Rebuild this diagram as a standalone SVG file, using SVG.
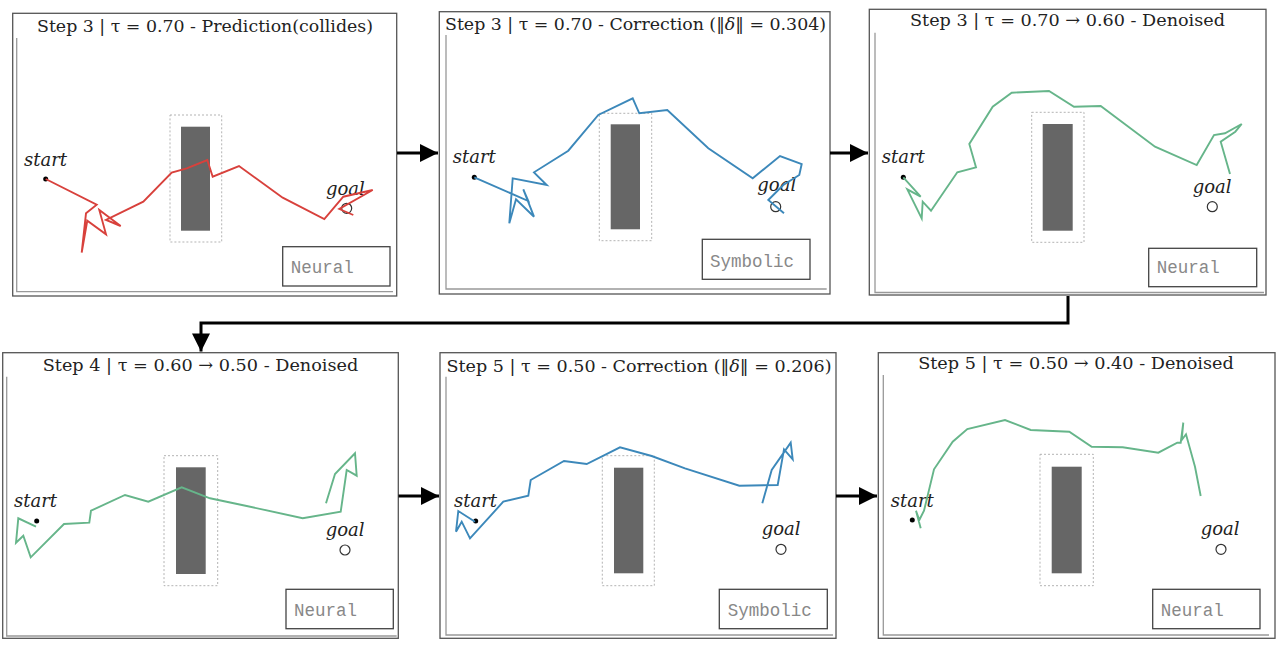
<svg xmlns="http://www.w3.org/2000/svg" width="1280" height="649" viewBox="0 0 1280 649">
<defs>
<style>
.frame{fill:#fff;stroke:#555;stroke-width:1.3}
.axis{fill:none;stroke:#999;stroke-width:1.3}
.title{font-family:"DejaVu Serif","Liberation Serif",serif;font-size:17.5px;fill:#222;text-anchor:middle}
.lbl{font-family:"DejaVu Serif","Liberation Serif",serif;font-style:italic;font-size:18px;fill:#222}
.mode{font-family:"Liberation Mono","Courier New",monospace;font-size:17.5px;fill:#888}
.modebox{fill:#fff;stroke:#444;stroke-width:1.3}
.safe{fill:none;stroke:#aaa;stroke-width:0.9;stroke-dasharray:2,2}
.obs{fill:#666}
.goal{fill:#fff;stroke:#333;stroke-width:1.2}
.red{fill:none;stroke:#d8413c;stroke-width:1.9}
.blue{fill:none;stroke:#3c88ba;stroke-width:1.9}
.green{fill:none;stroke:#66b58a;stroke-width:1.9}
.conn{fill:none;stroke:#000;stroke-width:3}
</style>
<marker id="ah" viewBox="0 0 10 10" refX="10" refY="5" markerWidth="7.5" markerHeight="6" markerUnits="strokeWidth" orient="auto">
<path d="M0,0 L10,5 L0,10 z" fill="#000"/>
</marker>
</defs>
<rect width="1280" height="649" fill="#fff"/>

<g id="panel1">
<rect class="frame" x="12.7" y="13.3" width="384" height="282.7"/>
<path class="axis" d="M16.7,38 V291.7 H393"/>
<text class="title" x="205" y="32" textLength="336" lengthAdjust="spacingAndGlyphs">Step 3 | τ = 0.70 - Prediction(collides)</text>
<rect class="safe" x="170" y="115" width="51.7" height="127"/>
<rect class="obs" x="181" y="126.7" width="29" height="104"/>
<circle cx="45.7" cy="179" r="2.5" fill="#000"/>
<text class="lbl" x="24" y="165.7">start</text>
<text class="lbl" x="326" y="195">goal</text>
<circle class="goal" cx="346.7" cy="208.3" r="5"/>
<polyline class="red" points="45.7,179 96.7,204.7 86,213.3 81.7,252.7 87.3,220.7 106,234.3 99.3,210 120.7,226 106,220 143.3,201.7 171.7,172.7 186.7,168.3 207.3,160 212.7,176.7 239,166 282.7,197.7 324.3,219 343.3,196.7 372.7,190 339.3,209 353.3,215"/>
<rect class="modebox" x="282.7" y="246.7" width="107.3" height="39.3"/>
<text class="mode" x="290.7" y="272.7">Neural</text>
</g>

<g id="panel2">
<rect class="frame" x="439.3" y="11.7" width="390.7" height="282.3"/>
<path class="axis" d="M446,35 V289 H826.7"/>
<text class="title" x="635.5" y="30" textLength="381" lengthAdjust="spacingAndGlyphs">Step 3 | τ = 0.70 - Correction (‖<tspan font-style="italic">δ</tspan>‖ = 0.304)</text>
<rect class="safe" x="599.3" y="113.3" width="52.4" height="127.4"/>
<rect class="obs" x="610.7" y="124.3" width="29.3" height="105"/>
<circle cx="474.3" cy="177.3" r="2.5" fill="#000"/>
<text class="lbl" x="452.7" y="163.3">start</text>
<text class="lbl" x="757.3" y="191">goal</text>
<circle class="goal" cx="775.7" cy="206.7" r="5"/>
<polyline class="blue" points="474.3,177.3 528.3,201 523.3,189.3 534,216.7 516,199.3 509.3,223.3 512.7,178.3 546.7,185 534,172.3 568.3,150.7 598.3,115 632.7,98.3 639.3,113.3 667.3,110 708.3,148.3 752.7,178.3 780,156 801.7,164 799.3,175 783.3,185 768.3,200 784,213.3"/>
<rect class="modebox" x="702.3" y="239.3" width="107.7" height="40"/>
<text class="mode" x="710" y="266.7">Symbolic</text>
</g>

<g id="panel3">
<rect class="frame" x="869.3" y="9.3" width="396.7" height="285.7"/>
<path class="axis" d="M875,32.7 V292.5 H1264"/>
<text class="title" x="1067.5" y="26" textLength="315" lengthAdjust="spacingAndGlyphs">Step 3 | τ = 0.70 → 0.60 - Denoised</text>
<rect class="safe" x="1031.7" y="112.3" width="52.3" height="130"/>
<rect class="obs" x="1042.7" y="124" width="30" height="106.7"/>
<circle cx="903.3" cy="177.3" r="2.5" fill="#000"/>
<text class="lbl" x="881.7" y="163.3">start</text>
<text class="lbl" x="1192.7" y="192.7">goal</text>
<circle class="goal" cx="1212.3" cy="206.7" r="5"/>
<polyline class="green" points="903.3,177.3 920.7,196.7 907.3,189.3 921.7,218.3 922.7,201.7 931,210.7 957.3,172.3 976,167.3 969.3,144 992.7,106.7 1011.7,92.7 1049,91 1074,106.7 1100.7,106 1155,146.7 1196.7,165 1214,135 1225,133.3 1241.7,124 1235.3,131.7 1220.7,141.7 1230,174"/>
<rect class="modebox" x="1148.7" y="248.3" width="108" height="38.4"/>
<text class="mode" x="1156.7" y="273.3">Neural</text>
</g>

<g id="panel4">
<rect class="frame" x="2.7" y="352.7" width="395.6" height="285.6"/>
<path class="axis" d="M6.7,376.7 V636 H396.7"/>
<text class="title" x="200.5" y="370.7" textLength="315.6" lengthAdjust="spacingAndGlyphs">Step 4 | τ = 0.60 → 0.50 - Denoised</text>
<rect class="safe" x="164" y="455.7" width="53.7" height="130"/>
<rect class="obs" x="176" y="467.3" width="29.7" height="106.7"/>
<circle cx="36.7" cy="521" r="2.5" fill="#000"/>
<text class="lbl" x="14" y="506.7">start</text>
<text class="lbl" x="325.7" y="536">goal</text>
<circle class="goal" cx="345" cy="550" r="5"/>
<polyline class="green" points="36,526.7 18.3,518.3 16,542.7 23.3,535.7 30.7,557.3 64,524 89.3,522.7 91,510.7 125,495 148.3,501.7 181.7,487.3 210,498.3 246.7,506 302.7,518.3 340.7,511.7 346.7,470 356.7,475.7 355,453.3 335,474 326,503.3"/>
<rect class="modebox" x="286" y="589.3" width="107.3" height="39.4"/>
<text class="mode" x="294" y="616">Neural</text>
</g>

<g id="panel5">
<rect class="frame" x="440" y="352.7" width="396" height="285.6"/>
<path class="axis" d="M446,376.7 V635 H833"/>
<text class="title" x="639" y="371.7" textLength="385" lengthAdjust="spacingAndGlyphs">Step 5 | τ = 0.50 - Correction (‖<tspan font-style="italic">δ</tspan>‖ = 0.206)</text>
<rect class="safe" x="602.3" y="455.7" width="52" height="130"/>
<rect class="obs" x="614" y="467.7" width="29.3" height="105.6"/>
<circle cx="475.7" cy="521" r="2.5" fill="#000"/>
<text class="lbl" x="454" y="506.7">start</text>
<text class="lbl" x="761.7" y="535">goal</text>
<circle class="goal" cx="781" cy="549.3" r="5"/>
<polyline class="blue" points="475,521.7 458.3,511 456,531.7 461.7,521.7 470,538.3 503.3,501.7 528.3,495.7 530.7,480 564,461 586.7,464 620,447.3 651.7,456 685,468.3 739.3,485.7 777.7,485 784,449.3 792.7,459.3 790.7,442.7 771.7,470 762.3,503.3"/>
<rect class="modebox" x="719.3" y="589.3" width="108" height="39.4"/>
<text class="mode" x="727.7" y="616">Symbolic</text>
</g>

<g id="panel6">
<rect class="frame" x="878.3" y="352.7" width="396.7" height="285.6"/>
<path class="axis" d="M883.3,375 V635 H1269"/>
<text class="title" x="1076" y="369.3" textLength="315.7" lengthAdjust="spacingAndGlyphs">Step 5 | τ = 0.50 → 0.40 - Denoised</text>
<rect class="safe" x="1040" y="454.3" width="53.3" height="131.4"/>
<rect class="obs" x="1051.7" y="466.7" width="30" height="106.6"/>
<circle cx="912.3" cy="520" r="2.5" fill="#000"/>
<text class="lbl" x="890.7" y="506.7">start</text>
<text class="lbl" x="1200.7" y="535">goal</text>
<circle class="goal" cx="1221" cy="549.3" r="5"/>
<polyline class="green" points="920.7,528.3 916,510.7 919.3,520 924,510.7 934,469.3 952.7,441.7 967.3,429 1005,420 1030.7,430 1069.3,431.7 1091.7,446.7 1122.7,447.3 1158.3,452.7 1177.3,442.7 1180.7,442.7 1183.3,422.7 1181.7,440 1186,434.3 1195,466.7 1200.7,496"/>
<rect class="modebox" x="1152.7" y="589.3" width="107.3" height="39.4"/>
<text class="mode" x="1160.7" y="616">Neural</text>
</g>

<g id="connectors">
<path class="conn" d="M397,153 H438" marker-end="url(#ah)"/>
<path class="conn" d="M830,153 H868" marker-end="url(#ah)"/>
<path class="conn" d="M1068,296 V323 H201 V351.5" marker-end="url(#ah)"/>
<path class="conn" d="M398.5,496 H439" marker-end="url(#ah)"/>
<path class="conn" d="M836,496 H877" marker-end="url(#ah)"/>
</g>
</svg>
